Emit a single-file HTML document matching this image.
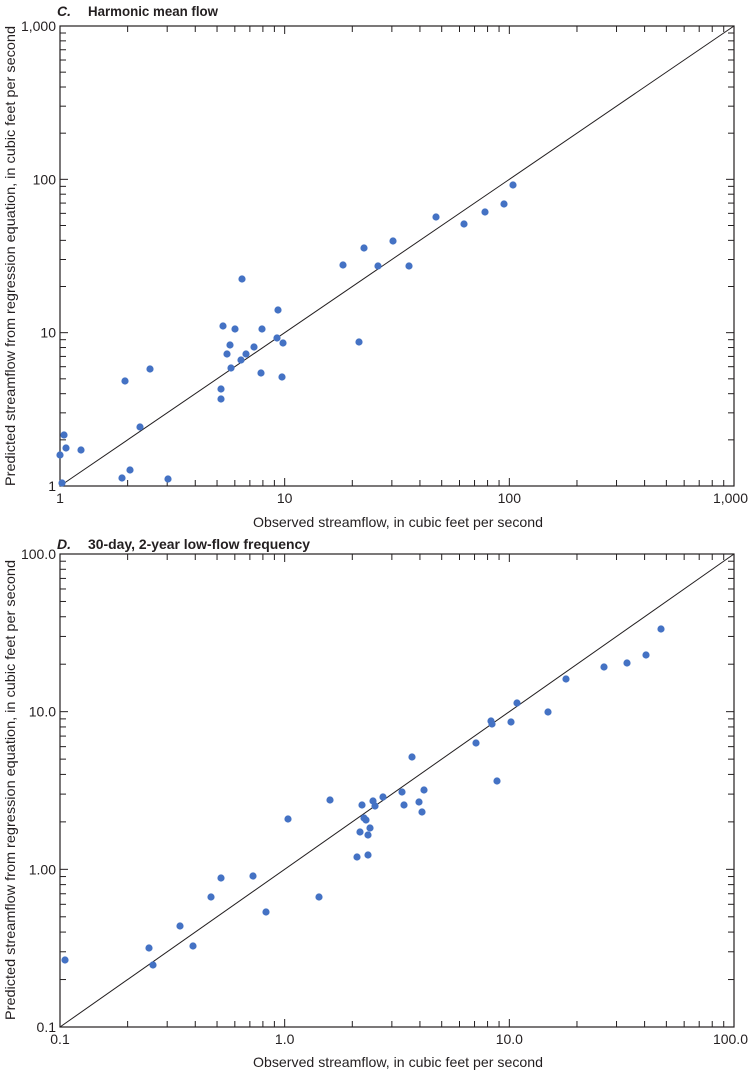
<!DOCTYPE html>
<html><head><meta charset="utf-8"><style>
html,body{margin:0;padding:0;background:#fff}
svg{display:block}
text{font-family:"Liberation Sans Narrow","Liberation Sans",sans-serif;font-size:14px;fill:#231f20}
</style></head><body>
<svg id="s" width="749" height="1072" xmlns="http://www.w3.org/2000/svg">
<text x="57" y="16" font-weight="bold" font-style="italic" font-size="15">C.</text>
<text x="88" y="16" font-weight="bold" font-size="15" textLength="130" lengthAdjust="spacingAndGlyphs">Harmonic mean flow</text>
<text x="57" y="549" font-weight="bold" font-style="italic" font-size="15">D.</text>
<text x="88" y="549" font-weight="bold" font-size="15" textLength="222" lengthAdjust="spacingAndGlyphs">30-day, 2-year low-flow frequency</text>
<text x="398" y="527" text-anchor="middle" font-size="15" textLength="290" lengthAdjust="spacingAndGlyphs">Observed streamflow, in cubic feet per second</text>
<text x="398" y="1067" text-anchor="middle" font-size="15" textLength="290" lengthAdjust="spacingAndGlyphs">Observed streamflow, in cubic feet per second</text>
<text transform="translate(15,256) rotate(-90)" text-anchor="middle" font-size="15" textLength="460" lengthAdjust="spacingAndGlyphs">Predicted streamflow from regression equation, in cubic feet per second</text>
<text transform="translate(15,790) rotate(-90)" text-anchor="middle" font-size="15" textLength="460" lengthAdjust="spacingAndGlyphs">Predicted streamflow from regression equation, in cubic feet per second</text>
<g id="g"></g>
</svg>
<script>
var g=document.getElementById('g'),NS="http://www.w3.org/2000/svg";
function el(n,a,t){var e=document.createElementNS(NS,n);for(var k in a)e.setAttribute(k,a[k]);if(t)e.textContent=t;g.appendChild(e);return e;}
function plot(L,T,R,B,xl,yl,pts){
 el('rect',{x:L,y:T,width:R-L,height:B-T,fill:'none',stroke:'#231f20','stroke-width':1.2});
 el('line',{x1:L,y1:B,x2:R,y2:T,stroke:'#231f20','stroke-width':1});
 var dx=(R-L)/3,dy=(B-T)/3;
 for(var d=0;d<3;d++)for(var m=1;m<10;m++){
  var f=Math.log10(m);var x=L+(d+f)*dx,y=B-(d+f)*dy;var len=m==1?8:6;
  if(m==1&&d==0)continue;
  el('line',{x1:x,y1:B,x2:x,y2:B-len,stroke:'#231f20'});
  el('line',{x1:x,y1:T,x2:x,y2:T+len,stroke:'#231f20'});
  el('line',{x1:L,y1:y,x2:L+len,y2:y,stroke:'#231f20'});
  el('line',{x1:R,y1:y,x2:R-len,y2:y,stroke:'#231f20'});
 }
 for(var i=0;i<4;i++){
  var x=L+i*dx, anc='middle'; if(i==3){x=748;anc='end';}
  el('text',{x:x,y:B+17,'text-anchor':anc,'font-size':15},xl[i]);
  el('text',{x:L-4,y:B-i*dy+5,'text-anchor':'end','font-size':15},yl[i]);
 }
 pts.forEach(function(p){el('circle',{cx:p[0],cy:p[1],r:3.6,fill:'#4472c4'});});
}
plot(60,26,734,486,['1','10','100','1,000'],['1','10','100','1,000'],
[[60,455],[64,435],[66,448],[62,483],[81,450],[125,381],[122,478],[130,470],[140,427],[150,369],[168,479],[221,399],[221,389],[223,326],[227,354],[230,345],[231,368],[235,329],[241,360],[246,354],[254,347],[262,329],[261,373],[242,279],[277,338],[278,310],[282,377],[283,343],[343,265],[359,342],[364,248],[378,266],[393,241],[409,266],[436,217],[464,224],[485,212],[504,204],[513,185]]);
plot(60,554,734,1027,['0.1','1.0','10.0','100.0'],['0.1','1.00','10.0','100.0'],
[[65,960],[149,948],[153,965],[193,946],[180,926],[211,897],[221,878],[253,876],[266,912],[288,819],[319,897],[330,800],[357,857],[360,832],[362,805],[364,818],[366,820],[368,855],[368,835],[370,828],[373,801],[375,806],[383,797],[402,792],[404,805],[412,757],[419,802],[422,812],[424,790],[476,743],[491,721],[492,724],[497,781],[511,722],[517,703],[548,712],[566,679],[604,667],[627,663],[646,655],[661,629]]);
</script>
</body></html>
